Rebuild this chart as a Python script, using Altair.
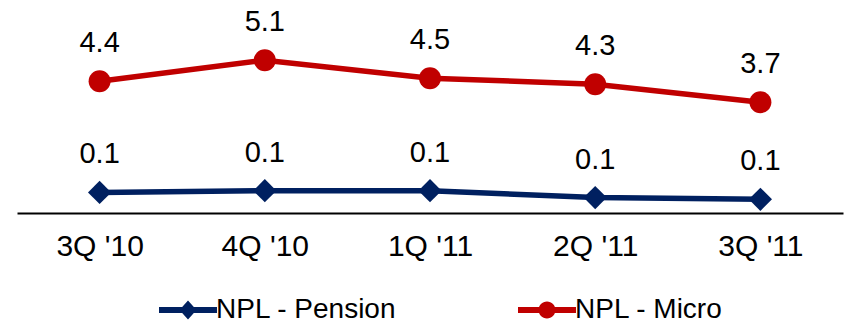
import altair as alt
import pandas as pd

# Quarterly non-performing loan ratios (%)
quarters = ["3Q '10", "4Q '10", "1Q '11", "2Q '11", "3Q '11"]
npl_micro = [4.4, 5.1, 4.5, 4.3, 3.7]
npl_pension = [0.12, 0.13, 0.13, 0.09, 0.08]
series_names = ["NPL - Pension", "NPL - Micro"]

RED = "#C00000"
NAVY = "#002060"
FONT = "Liberation Sans"

micro_df = pd.DataFrame({"quarter": quarters, "value": npl_micro})
pension_df = pd.DataFrame({"quarter": quarters, "value": npl_pension})
legend_df = pd.DataFrame({"series": series_names})

x_enc = alt.X(
    "quarter:N",
    sort=quarters,
    scale=alt.Scale(type="point", padding=0.5),
    axis=alt.Axis(
        title=None,
        domainColor="black",
        domainWidth=2,
        ticks=False,
        tickSize=0,
        grid=False,
        labelFontSize=30,
        labelColor="black",
        labelFont=FONT,
        labelPadding=18,
        labelAngle=0,
    ),
)


def series_group(df, domain_max, color, shape, size):
    base = alt.Chart(df).encode(
        x=x_enc,
        y=alt.Y(
            "value:Q",
            scale=alt.Scale(domain=[0, domain_max], nice=False, zero=True),
            axis=None,
        ),
    )
    line = base.mark_line(color=color, strokeWidth=5.5)
    pts = base.mark_point(filled=True, shape=shape, size=size, color=color, opacity=1)
    txt = base.mark_text(
        dy=-29, fontSize=29, color="black", font=FONT, baseline="alphabetic"
    ).encode(text=alt.Text("value:Q", format=".1f"))
    return alt.layer(line, pts, txt)


micro = series_group(micro_df, 7.11, RED, "circle", 484)
pension = series_group(pension_df, 1.242, NAVY, "diamond", 540)

# Legend symbols: a short line with the series marker on it
pension_sym = "M-2.9,-0.3L2.9,-0.3L2.9,0.3L-2.9,0.3Z M0,-0.95L0.85,0L0,0.95L-0.85,0Z"
micro_sym = ("M-2.9,-0.3L2.9,-0.3L2.9,0.3L-2.9,0.3Z "
             "M-0.85,0A0.85,0.85 0 1,1 0.85,0A0.85,0.85 0 1,1 -0.85,0Z")

legend_cfg = alt.Legend(
    title=None,
    orient="none",
    direction="horizontal",
    legendX=157,
    legendY=296,
    symbolSize=400,
    symbolStrokeWidth=0,
    symbolOpacity=1,
    labelFontSize=28,
    labelFont=FONT,
    labelColor="black",
    labelOffset=14,
    labelLimit=400,
    columnPadding=121,
    padding=0,
)

legend_layer = alt.Chart(legend_df).mark_point(filled=True, opacity=0).encode(
    color=alt.Color(
        "series:N",
        scale=alt.Scale(domain=series_names, range=[NAVY, RED]),
        legend=legend_cfg,
    ),
    shape=alt.Shape(
        "series:N",
        scale=alt.Scale(domain=series_names, range=[pension_sym, micro_sym]),
        legend=legend_cfg,
    ),
)

chart = (
    alt.layer(micro, pension, legend_layer)
    .resolve_scale(y="independent")
    .properties(
        width=826,
        height=213,
        padding={"left": 17, "top": 0, "right": 7, "bottom": 0},
        background="white",
    )
    .configure_view(stroke=None)
)

chart.save("out.html", embed_options={"renderer": "svg", "actions": False})
